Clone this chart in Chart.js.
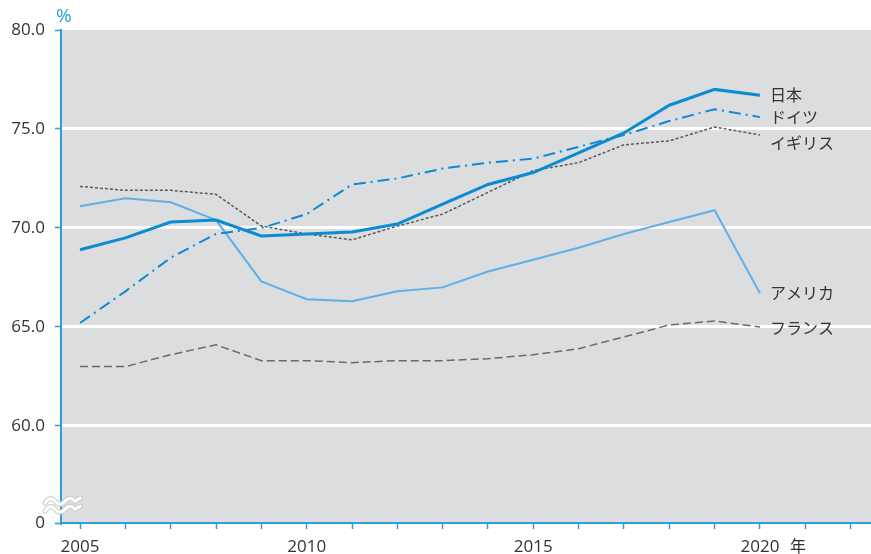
<!DOCTYPE html>
<html lang="ja">
  <head>
    <meta charset="UTF-8" />
    <title>就業率の推移</title>
    <script src="https://cdn.jsdelivr.net/npm/chart.js"></script>
    <style>
      body { margin: 0; background: #fff; }
      #wrap { width: 871px; height: 554px; }
    </style>
  </head>
  <body>
    <div id="wrap"><canvas id="myChart" width="871" height="554"></canvas></div>

    <script>
      // values (percent)
      const years = [2005, 2006, 2007, 2008, 2009, 2010, 2011, 2012, 2013, 2014, 2015, 2016, 2017, 2018, 2019, 2020];
      const japan = [68.9, 69.5, 70.3, 70.4, 69.6, 69.7, 69.8, 70.2, 71.2, 72.2, 72.8, 73.8, 74.8, 76.2, 77.0, 76.7];
      const germany = [65.2, 66.8, 68.5, 69.7, 70.0, 70.7, 72.2, 72.5, 73.0, 73.3, 73.5, 74.1, 74.7, 75.4, 76.0, 75.6];
      const uk = [72.1, 71.9, 71.9, 71.7, 70.1, 69.7, 69.4, 70.1, 70.7, 71.8, 72.9, 73.3, 74.2, 74.4, 75.1, 74.7];
      const usa = [71.1, 71.5, 71.3, 70.4, 67.3, 66.4, 66.3, 66.8, 67.0, 67.8, 68.4, 69.0, 69.7, 70.3, 70.9, 66.7];
      const france = [63.0, 63.0, 63.6, 64.1, 63.3, 63.3, 63.2, 63.3, 63.3, 63.4, 63.6, 63.9, 64.5, 65.1, 65.3, 65.0];

      const names = ['日本', 'ドイツ', 'イギリス', 'アメリカ', 'フランス'];
      const yTickValues = [55.1, 60, 65, 70, 75, 80];
      const xTickValues = [2005, 2006, 2007, 2008, 2009, 2010, 2011, 2012, 2013, 2014, 2015, 2016, 2017, 2018, 2019, 2020, 2021, 2022];
      const xTickLabels = ['2005', '2010', '2015', '2020'];

      const BLUE = '#0a8bd2';
      const AXIS = '#2a9fda';
      const TEXT = '#333333';
      const FONT = "'Noto Sans CJK JP', 'Noto Sans', sans-serif";
      const NUM_FONT = "'Open Sans', 'Noto Sans', sans-serif";

      function pts(vals) {
        return years.map((yr, i) => ({ x: yr, y: vals[i] }));
      }

      // grey plot background
      const plotBg = {
        id: 'plotBg',
        beforeDraw(chart) {
          const { ctx, chartArea: a } = chart;
          ctx.save();
          ctx.fillStyle = '#dcdddf';
          ctx.fillRect(a.left, a.top, a.right - a.left, a.bottom - a.top);
          ctx.restore();
        }
      };

      // names at the end of each line, "%" unit, "年" unit, axis break
      const extras = {
        id: 'extras',
        afterDraw(chart) {
          const { ctx, chartArea: a, scales } = chart;
          ctx.save();
          ctx.font = '16px ' + FONT;
          ctx.textBaseline = 'middle';
          ctx.textAlign = 'left';
          ctx.fillStyle = TEXT;
          const shift = [0, 0, 8, 0, 1];
          chart.data.datasets.forEach((ds, i) => {
            const meta = chart.getDatasetMeta(i);
            const last = meta.data[meta.data.length - 1];
            ctx.fillText(ds.label, last.x + 10, last.y + shift[i]);
          });

          ctx.fillStyle = AXIS;
          ctx.font = '19px ' + NUM_FONT;
          ctx.fillText('%', a.left - 5, a.top - 13);

          ctx.fillStyle = TEXT;
          ctx.font = '16px ' + FONT;
          ctx.textAlign = 'center';
          ctx.fillText('年', scales.x.getPixelForValue(2020) + 38, a.bottom + 23);

          // wavy break mark on the value axis
          const yb = scales.y.getPixelForValue(56);
          const x0 = a.left - 16;
          [-4, 4].forEach(off => {
            const y = yb + off;
            const wave = () => {
              ctx.beginPath();
              ctx.moveTo(x0, y + 2);
              ctx.quadraticCurveTo(x0 + 5, y - 6, x0 + 10, y);
              ctx.quadraticCurveTo(x0 + 15, y + 6, x0 + 20, y);
              ctx.quadraticCurveTo(x0 + 25, y - 6, x0 + 30, y);
              ctx.lineTo(x0 + 35, y - 3);
            };
            ctx.lineCap = 'round';
            ctx.strokeStyle = '#c8c9cb';
            ctx.lineWidth = 5;
            wave();
            ctx.stroke();
            ctx.strokeStyle = '#ffffff';
            ctx.lineWidth = 3;
            wave();
            ctx.stroke();
          });
          ctx.restore();
        }
      };

      window.addEventListener('load', setup);

      function setup() {
        const ctx = document.getElementById('myChart').getContext('2d');
        new Chart(ctx, {
          type: 'line',
          data: {
            datasets: [
              { label: names[0], data: pts(japan), borderColor: BLUE, borderWidth: 3 },
              { label: names[1], data: pts(germany), borderColor: BLUE, borderWidth: 2, borderDash: [12, 5, 2, 5] },
              { label: names[2], data: pts(uk), borderColor: '#5a5a5c', borderWidth: 1.5, borderDash: [3, 2] },
              { label: names[3], data: pts(usa), borderColor: '#5fb0e6', borderWidth: 2 },
              { label: names[4], data: pts(france), borderColor: '#6a6a6c', borderWidth: 1.5, borderDash: [8, 4] }
            ]
          },
          options: {
            responsive: false,
            animation: false,
            events: [],
            layout: { padding: { top: 30, right: 0, left: 0, bottom: 0 } },
            elements: { point: { radius: 0 }, line: { tension: 0, fill: false } },
            plugins: { legend: { display: false }, tooltip: { enabled: false } },
            scales: {
              x: {
                type: 'linear',
                min: 2004.58,
                max: 2022.45,
                afterBuildTicks: s => { s.ticks = xTickValues.map(v => ({ value: v })); },
                afterFit: s => { s.height = 31; },
                border: { color: AXIS, width: 2 },
                grid: { drawOnChartArea: false, tickLength: 6, tickColor: AXIS, tickWidth: 1.5 },
                ticks: {
                  autoSkip: false,
                  maxRotation: 0,
                  padding: 8,
                  color: TEXT,
                  font: { family: NUM_FONT, size: 17 },
                  callback: v => (xTickLabels.includes(String(v)) ? String(v) : '')
                }
              },
              y: {
                min: 55.1,
                max: 80,
                afterBuildTicks: s => { s.ticks = yTickValues.map(v => ({ value: v })); },
                afterFit: s => { s.width = 61; },
                border: { color: AXIS, width: 2 },
                grid: {
                  color: c => (c.tick && c.tick.value > 56 && c.tick.value < 80 ? '#ffffff' : 'rgba(0,0,0,0)'),
                  lineWidth: 3,
                  tickLength: 6,
                  tickColor: AXIS,
                  tickWidth: 1.5
                },
                ticks: {
                  padding: 10,
                  color: TEXT,
                  font: { family: NUM_FONT, size: 17 },
                  callback: v => (v < 60 ? '0' : v.toFixed(1))
                }
              }
            }
          },
          plugins: [plotBg, extras]
        });
      }
    </script>
  </body>
</html>
